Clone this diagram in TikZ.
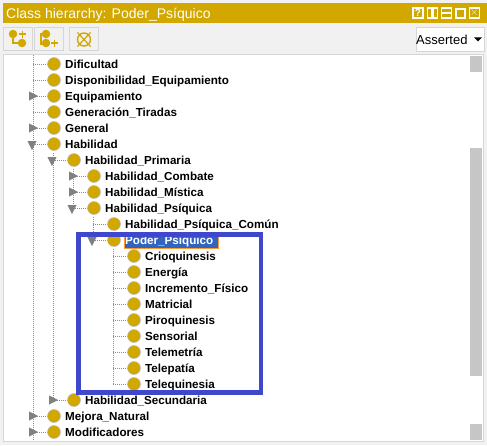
\documentclass[tikz,border=0pt]{standalone}
\usepackage{fontspec}
\setmainfont{Liberation Sans}
\usetikzlibrary{%
  arrows.meta,%
  shapes.geometric,% triangles
  positioning,% wg. " of "
  calc%
}
\definecolor{gold}{HTML}{D1A700}
\definecolor{panelgray}{HTML}{F1F1F1}
\definecolor{edgegray}{HTML}{D6D6D6}
\definecolor{markblue}{HTML}{3F48CC}
\definecolor{selblue}{HTML}{2F65C0}

\begin{document}
\begin{tikzpicture}[
  x=1pt, y=-1pt,
  cls/.style={circle, minimum width=13pt, inner sep=0pt, draw=gray!50, line width=0.5pt, fill=gold},
  lab/.style={font=\fontsize{11.65}{12}\bfseries, inner sep=0pt, text=black, anchor=base west},
  treeline/.style={draw=gray!90, dash pattern=on 1pt off 1pt, line width=0.8pt},
  tri/.style={isosceles triangle, isosceles triangle stretches, minimum height=9pt, minimum width=9pt, inner sep=0pt, fill=gray, draw=none},
  open/.style={tri, shape border rotate=-90},
  closed/.style={tri, shape border rotate=0},
  btn/.style={rectangle, draw=edgegray, line width=1pt, fill=panelgray, inner sep=0pt},
  thumb/.style={rectangle, fill=gray!45, inner sep=0pt, minimum width=12pt},
  winbtn/.style={rectangle, draw=white, line width=1.2pt, inner sep=0pt, minimum width=10pt, minimum height=10pt},
  ico/.style={circle, fill=gold, inner sep=0pt, minimum width=8.5pt},
  icoline/.style={draw=gold, line width=1.2pt}
]
\useasboundingbox (0,0) rectangle (487,445);
\fill[panelgray] (0,0) rectangle (487,445);

% title bar
\node[rectangle, fill=gold, inner sep=0pt, minimum width=484pt, minimum height=20pt, anchor=north west] (titlebar) at (3,3) {};
\node[font=\fontsize{14}{14}\selectfont, text=white, inner sep=0pt, anchor=base west] (titletext) at (6,18) {Class hierarchy: Poder\_Psíquico};
\node[winbtn, font=\fontsize{10}{10}\bfseries, text=white] (wb1) at (418,13) {?};
\node[winbtn] (wb2) at (432.5,13) {};
\node[winbtn] (wb3) at (446.5,13) {};
\node[winbtn, line width=2pt, minimum width=9pt, minimum height=9pt] (wb4) at (460.5,13) {};
\node[winbtn, font=\fontsize{11}{11}\bfseries, text=white] (wb5) at (474.5,13) {$\times$};
\draw[white, line width=2.5pt] (wb2.north) -- (wb2.south);
\draw[white, line width=2.5pt] (wb3.west) -- (wb3.east);

% toolbar
\node[btn, minimum width=29pt, minimum height=23pt] (b1) at (18,38.5) {};
\node[btn, minimum width=29pt, minimum height=23pt] (b2) at (49,38.5) {};
\node[btn, minimum width=29pt, minimum height=23pt] (b3) at (84,38.5) {};
\node[ico] (b1a) at (13,34) {};
\node[ico] (b1b) at (22,43) {};
\draw[icoline] (b1a) |- (b1b);
\draw[icoline, line width=1.8pt] (19,34) -- (26,34) (22.5,30.5) -- (22.5,37.5);
\node[ico] (b2a) at (46,34) {};
\node[ico] (b2b) at (46,43) {};
\draw[icoline] (43,34) -- (41,34) -- (41,44) -- (43,44);
\draw[icoline, line width=1.8pt] (51,43) -- (58,43) (54.5,39.5) -- (54.5,46.5);
\node[circle, draw=gold, line width=1.4pt, minimum width=13pt, inner sep=0pt] (b3a) at (84,39.5) {};
\draw[icoline] (77.5,32.5) -- (90.5,46.5) (90.5,32.5) -- (77.5,46.5);
\node[btn, fill=white, minimum width=68pt, minimum height=24pt] (asserted) at (450,39) {};
\node[font=\fontsize{13}{13}\selectfont, inner sep=0pt, anchor=base west] (assertedtext) at (416,44) {Asserted};
\node[tri, fill=black, shape border rotate=-90, minimum height=4pt, minimum width=8pt] (assertedtri) at (478,39) {};

% tree panel
\draw[edgegray, line width=1pt, fill=white] (3.5,54.5) rectangle (483.5,441.5);
\node[thumb, minimum height=16pt, anchor=north] (th1) at (476,56) {};
\node[thumb, minimum height=228pt, anchor=north] (th2) at (476,148) {};
\node[thumb, minimum height=16pt, anchor=north] (th3) at (476,424) {};

% selected row
\node[rectangle, fill=selblue, draw=orange!80, line width=0.7pt, inner sep=0pt, minimum width=94pt, minimum height=16pt, anchor=west] (sel) at (124,240) {};

% vertical lines
\coordinate (v0a) at (33,55);
\coordinate (v0b) at (33,440);
\coordinate (v1a) at (53,153);
\coordinate (v1b) at (53,400);
\coordinate (v2a) at (73,169);
\coordinate (v2b) at (73,208);
\coordinate (v3a) at (93,217);
\coordinate (v3b) at (93,240);
\coordinate (v4a) at (113,249);
\coordinate (v4b) at (113,384);
\draw[treeline] (v0a) -- (v0b);
\draw[treeline] (v1a) -- (v1b);
\draw[treeline] (v2a) -- (v2b);
\draw[treeline] (v3a) -- (v3b);
\draw[treeline] (v4a) -- (v4b);

% classes
\foreach \n/\x/\y/\txt in {%
  c1/54/64/Dificultad,
  c2/54/80/Disponibilidad\_Equipamiento,
  c3/54/96/Equipamiento,
  c4/54/112/Generación\_Tiradas,
  c5/54/128/General,
  c6/54/144/Habilidad,
  c7/74/160/Habilidad\_Primaria,
  c8/94/176/Habilidad\_Combate,
  c9/94/192/Habilidad\_Mística,
  c10/94/208/Habilidad\_Psíquica,
  c11/114/224/Habilidad\_Psíquica\_Común,
  c13/134/256/Crioquinesis,
  c14/134/272/Energía,
  c15/134/288/Incremento\_Físico,
  c16/134/304/Matricial,
  c17/134/320/Piroquinesis,
  c18/134/336/Sensorial,
  c19/134/352/Telemetría,
  c20/134/368/Telepatía,
  c21/134/384/Telequinesia,
  c22/74/400/Habilidad\_Secundaria,
  c23/54/416/Mejora\_Natural,
  c24/54/432/Modificadores} {
  \coordinate (\n h) at (\x-21,\y);
  \draw[treeline] (\n h) -- (\x,\y);
  \node[cls] (\n) at (\x,\y) {};
  \node[lab] (\n t) at (\x+11,\y+4.5) {\txt};
}
\coordinate (c12h) at (93,240);
\draw[treeline] (c12h) -- (114,240);
\node[cls] (c12) at (114,240) {};
\node[lab, text=white] (c12t) at (125,244.5) {Poder\_Psíquico};

% expand handles
\node[closed] (t3) at (32,96) {};
\node[closed] (t5) at (32,128) {};
\node[open] (t6) at (32,144) {};
\node[open] (t7) at (52,160) {};
\node[closed] (t8) at (72,176) {};
\node[closed] (t9) at (72,192) {};
\node[open] (t10) at (72,208) {};
\node[open] (t12) at (92,240) {};
\node[closed] (t22) at (52,400) {};
\node[closed] (t23) at (32,416) {};
\node[closed] (t24) at (32,432) {};

% highlight
\node[rectangle, draw=markblue, line width=4.5pt, inner sep=0pt, minimum width=182.5pt, minimum height=158pt, anchor=north west] (mark) at (76,232) {};
\end{tikzpicture}
\end{document}
